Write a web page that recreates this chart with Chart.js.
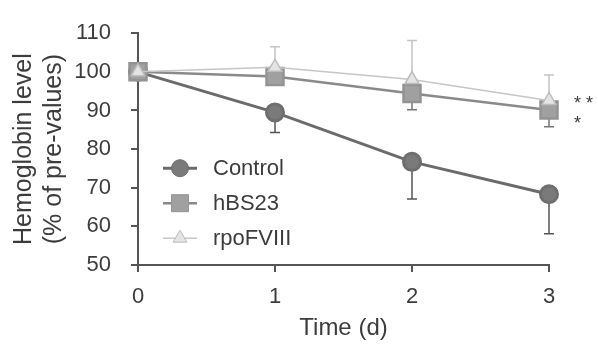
<!DOCTYPE html>
<html>
<head>
<meta charset="utf-8">
<script src="https://cdn.jsdelivr.net/npm/chart.js@4.4.1/dist/chart.umd.min.js"></script>
<style>
  html, body { margin: 0; padding: 0; background: #fff; }
  #wrap { width: 598px; height: 346px; }
</style>
</head>
<body>
<div id="wrap"><canvas id="myChart" width="598" height="346"></canvas></div>
<script>
// values
const days = [0, 1, 2, 3];
const seriesNames = ['Control', 'hBS23', 'rpoFVIII'];
const control = [100, 89.5, 76.7, 68.3];
const controlSD = [0, 5.2, 9.6, 10.2];
const hbs23 = [100, 98.8, 94.4, 90.1];
const hbs23SD = [0, 1.5, 4.2, 4.3];
const rpo = [100, 101.2, 98.0, 92.6];
const rpoSD = [0, 5.3, 10.1, 6.6];
const yTicks = [50, 60, 70, 80, 90, 100, 110];
const marks = [{ text: '* *', y: 92.8 }, { text: '*', y: 87.4 }];

const FONT = '"Liberation Sans", Arial, sans-serif';
const TXT = '#3c3c3c';
const AXIS = '#555';

// draws SD whiskers (one side only) under the markers
const errorBars = {
  id: 'errorBars',
  beforeDatasetsDraw(chart) {
    const ctx = chart.ctx;
    const ys = chart.scales.y;
    chart.data.datasets.forEach((ds, i) => {
      const meta = chart.getDatasetMeta(i);
      ctx.save();
      ctx.strokeStyle = ds.errColor;
      ctx.lineWidth = 1.5;
      meta.data.forEach((pt, j) => {
        const sd = ds.sd[j];
        if (!sd) return;
        const end = ys.getPixelForValue(ds.data[j].y + ds.errDir * sd);
        ctx.beginPath();
        ctx.moveTo(pt.x, pt.y);
        ctx.lineTo(pt.x, end);
        ctx.moveTo(pt.x - 5, end);
        ctx.lineTo(pt.x + 5, end);
        ctx.stroke();
      });
      ctx.restore();
    });
  }
};

// legend inside the plot, line + marker like the original
const innerLegend = {
  id: 'innerLegend',
  afterDatasetsDraw(chart) {
    const ctx = chart.ctx;
    const x0 = chart.chartArea.left + 25;
    chart.data.datasets.forEach((ds, i) => {
      const y = chart.chartArea.top + 135 + i * 35;
      ctx.save();
      ctx.strokeStyle = ds.borderColor;
      ctx.lineWidth = ds.borderWidth;
      ctx.beginPath();
      ctx.moveTo(x0, y);
      ctx.lineTo(x0 + 34, y);
      ctx.stroke();
      ctx.fillStyle = ds.pointBackgroundColor;
      ctx.strokeStyle = ds.pointBorderColor;
      ctx.lineWidth = 1;
      Chart.helpers.drawPoint(ctx, { pointStyle: ds.pointStyle, radius: ds.pointRadius, rotation: 0, borderWidth: 1 }, x0 + 17, y);
      ctx.fillStyle = TXT;
      ctx.font = '22px ' + FONT;
      ctx.textBaseline = 'middle';
      ctx.fillText(ds.label, x0 + 50, y + 1);
      ctx.restore();
    });
    // significance marks
    const xs = chart.scales.x, ys = chart.scales.y;
    ctx.save();
    ctx.fillStyle = TXT;
    ctx.font = '18px ' + FONT;
    ctx.textBaseline = 'middle';
    marks.forEach(m => ctx.fillText(m.text, xs.getPixelForValue(3) + 25, ys.getPixelForValue(m.y) + 4));
    ctx.restore();
  }
};

const pts = arr => arr.map((v, i) => ({ x: days[i], y: v }));

const ctx = document.getElementById('myChart').getContext('2d');
const myChart = new Chart(ctx, {
  type: 'line',
  data: {
    datasets: [{
      label: seriesNames[0],
      data: pts(control),
      sd: controlSD, errDir: -1, errColor: '#555',
      borderColor: '#6b6b6b',
      borderWidth: 3,
      pointStyle: 'circle',
      pointRadius: 8.5,
      pointBackgroundColor: '#7a7a7a',
      pointBorderColor: '#6e6e6e',
      order: 2
    }, {
      label: seriesNames[1],
      data: pts(hbs23),
      sd: hbs23SD, errDir: -1, errColor: '#777',
      borderColor: '#8a8a8a',
      borderWidth: 2.5,
      pointStyle: 'rect',
      pointRadius: 12,
      pointBackgroundColor: '#a0a0a0',
      pointBorderColor: '#939393',
      order: 1
    }, {
      label: seriesNames[2],
      data: pts(rpo),
      sd: rpoSD, errDir: 1, errColor: '#c4c4c4',
      borderColor: '#c6c6c6',
      borderWidth: 1.5,
      pointStyle: 'triangle',
      pointRadius: 8,
      pointBackgroundColor: '#e4e4e4',
      pointBorderColor: '#bdbdbd',
      order: 0
    }]
  },
  options: {
    responsive: false,
    animation: false,
    clip: false,
    layout: { padding: { top: 23, right: 49, left: 0, bottom: 0 } },
    plugins: { legend: { display: false }, tooltip: { enabled: false } },
    scales: {
      x: {
        type: 'linear',
        min: 0, max: 3,
        afterFit: s => { s.height = 81; },
        ticks: { stepSize: 1, color: TXT, padding: 12, font: { family: FONT, size: 22 } },
        grid: { drawOnChartArea: false, tickLength: 7, color: AXIS, lineWidth: 2 },
        border: { color: AXIS, width: 2 },
        title: { display: true, text: 'Time (d)', color: TXT, padding: { top: 0, bottom: 3 }, font: { family: FONT, size: 24 } }
      },
      y: {
        min: 50, max: 110,
        afterFit: s => { s.width = 138; },
        afterBuildTicks: s => { s.ticks = yTicks.map(v => ({ value: v })); },
        ticks: { color: TXT, padding: 20, font: { family: FONT, size: 22 } },
        grid: { drawOnChartArea: false, tickLength: 7, color: AXIS, lineWidth: 2 },
        border: { color: AXIS, width: 2 },
        title: {
          display: true, text: ['Hemoglobin level', '(% of pre-values)'], color: TXT,
          padding: { top: 9, bottom: 0 },
          font: { family: FONT, size: 25, lineHeight: 1.2 }
        }
      }
    }
  },
  plugins: [errorBars, innerLegend]
});
</script>
</body>
</html>
